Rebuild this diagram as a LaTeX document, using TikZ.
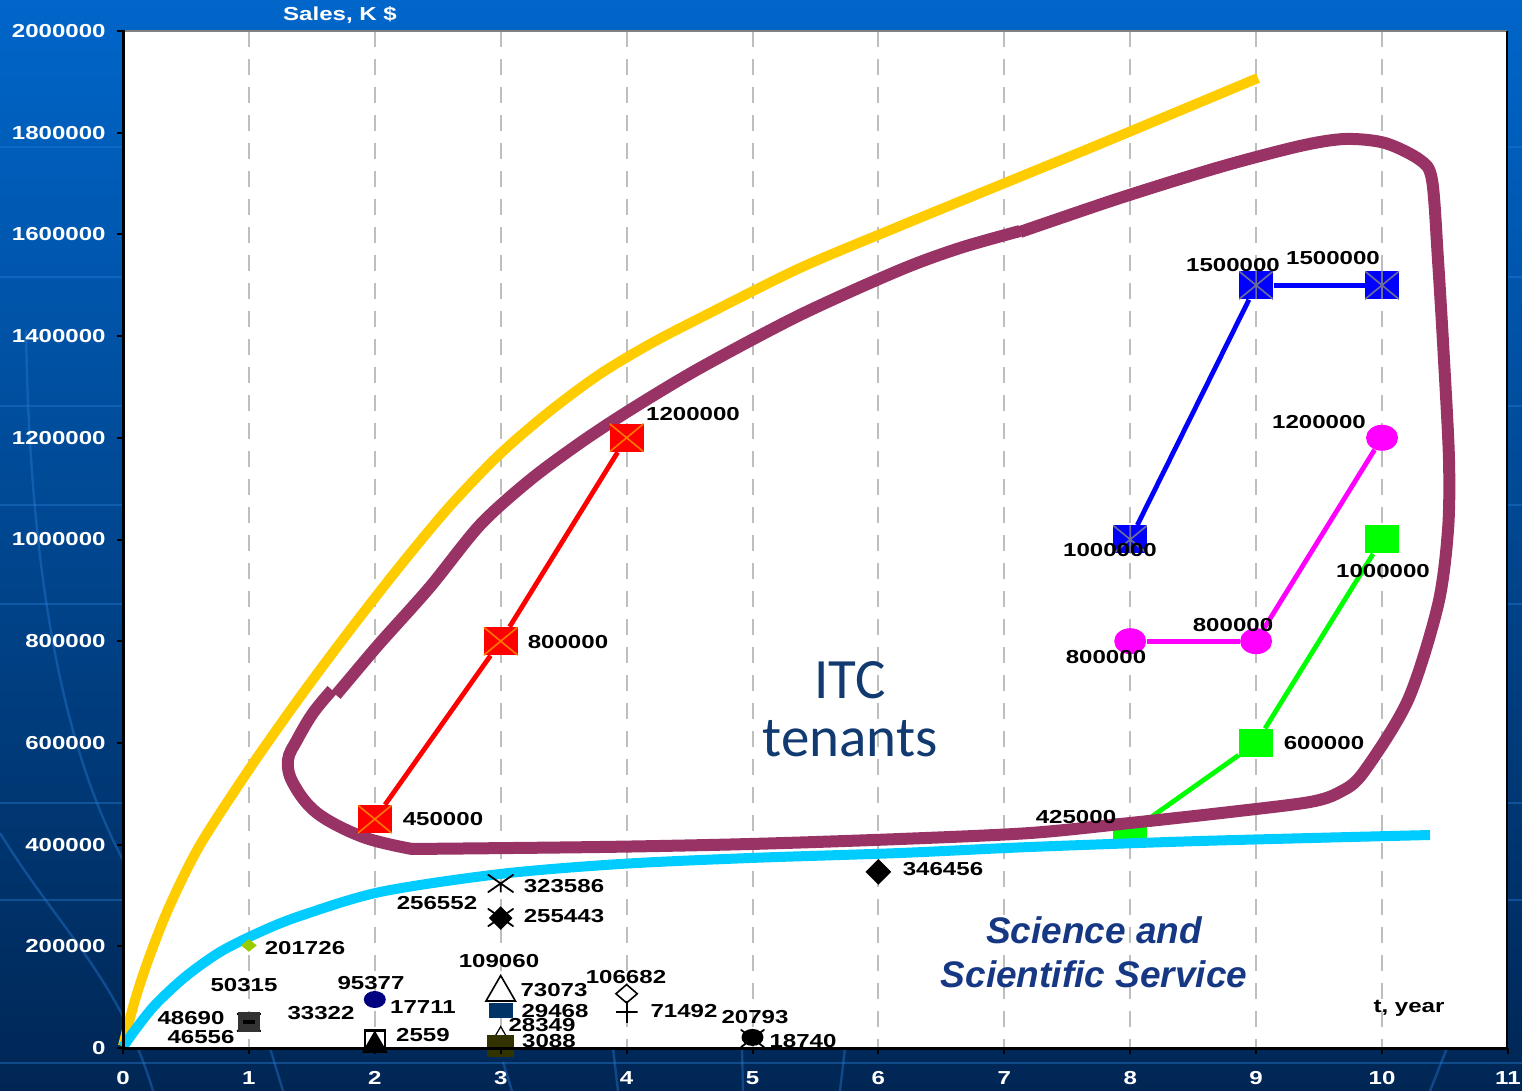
\documentclass[tikz,border=0pt]{standalone}
\usepackage{fontspec}
\usepackage{tikz}
\usetikzlibrary{shapes.geometric}
\newfontfamily\chartfont{Liberation Sans}[FakeStretch=1.28]
\newfontfamily\itcfont{Carlito}
\newfontfamily\sciencefont{Liberation Sans}
\definecolor{bgtop}{RGB}{0,102,202}
\definecolor{bgmid}{RGB}{0,72,148}
\definecolor{bgbot}{RGB}{0,38,84}
\definecolor{decoline}{RGB}{40,125,215}
\definecolor{gridgray}{RGB}{190,190,190}
\definecolor{gold}{RGB}{255,204,0}
\definecolor{plum}{RGB}{153,51,102}
\definecolor{skyline}{RGB}{0,204,255}
\definecolor{pureblue}{RGB}{0,0,255}
\definecolor{purered}{RGB}{255,0,0}
\definecolor{puremagenta}{RGB}{255,0,255}
\definecolor{puregreen}{RGB}{0,255,0}
\definecolor{xorange}{RGB}{255,120,0}
\definecolor{stargray}{RGB}{110,110,150}
\definecolor{leafgreen}{RGB}{153,204,0}
\definecolor{navyblue}{RGB}{0,0,128}
\definecolor{deepblue}{RGB}{0,51,102}
\definecolor{darkolive}{RGB}{51,51,0}
\definecolor{itcblue}{RGB}{16,58,112}
\definecolor{sciblue}{RGB}{22,56,132}

\tikzset{
  num/.style={font=\chartfont\bfseries\fontsize{9.4}{10}\selectfont, inner sep=0pt},
  ticklbl/.style={num, text=white},
  gridline/.style={draw=gridgray, line width=1pt, dash pattern=on 8pt off 6pt},
  deco/.style={draw=decoline, line width=1.2pt, opacity=.4},
  serline/.style={line width=2.4pt},
  sq/.style={rectangle, inner sep=0pt, minimum width=17pt, minimum height=14pt},
  redsq/.style={sq, fill=purered, path picture={
    \draw[xorange, line width=.8pt] (path picture bounding box.north west) -- (path picture bounding box.south east)
      (path picture bounding box.north east) -- (path picture bounding box.south west);}},
  bluesq/.style={sq, fill=pureblue, path picture={
    \draw[stargray, line width=.8pt] (path picture bounding box.north west) -- (path picture bounding box.south east)
      (path picture bounding box.north east) -- (path picture bounding box.south west)
      (path picture bounding box.north) -- (path picture bounding box.south);}},
  greensq/.style={sq, fill=puregreen},
  magdot/.style={ellipse, fill=puremagenta, inner sep=0pt, minimum width=16pt, minimum height=13pt},
  dot/.style={inner sep=0pt, draw=black, line width=.8pt},
  crossmark/.style={rectangle, inner sep=0pt, minimum width=#1, minimum height=9pt, path picture={
    \draw[black, line width=.9pt] (path picture bounding box.north west) -- (path picture bounding box.south east)
      (path picture bounding box.north east) -- (path picture bounding box.south west);}},
  crossmark/.default=12pt
}

\begin{document}
\begin{tikzpicture}[x=0.5pt, y=-0.5pt]
\useasboundingbox (0,0) rectangle (1522,1091);

% slide background
\shade[top color=bgtop, middle color=bgmid, bottom color=bgbot] (0,0) rectangle (1522,1091);
\foreach \yy in {147,277,406,505,604,803,900,1063}
  \draw[deco] (0,\yy) -- (1522,\yy);
\draw[deco] (26,330) .. controls (30,600) and (70,760) .. (123,860);
\draw[deco] (0,833) .. controls (60,930) and (120,980) .. (153,1091);
\draw[deco] (270,1048) -- (283,1091);
\draw[deco] (503,1062) -- (512,1091);
\draw[deco] (613,1048) -- (618,1091);
\draw[deco] (742,1048) -- (743,1091);
\draw[deco] (845,1048) -- (840,1091);
\draw[deco] (1447,1048) -- (1430,1091);

% plot area
\fill[white] (123,31) rectangle (1507,1048);
\foreach \i in {1,...,10}
  \draw[gridline] ({123+125.9*\i},31) -- ({123+125.9*\i},1048);
\draw[gray, line width=.6pt] (123,31) -- (1507,31);

% green series (lies under the curves)
\begin{scope}[shift={(123,1048)}, x=62.95pt, y=0.25425pt]
\node[greensq] (g8) at (8,425) {};
\node[greensq] (g9) at (9,600) {};
\node[greensq] (g10) at (10,1000) {};
\draw[serline, puregreen] (g8) -- (g9);
\draw[serline, puregreen] (g9) -- (g10);
\end{scope}

% curves
\draw[gold, line width=5pt] plot[smooth, tension=.5] coordinates {(123,1046) (135,1000) (150,955) (170,905) (200,845) (250,768) (300,697) (350,630) (400,566) (450,506) (500,454) (550,411) (600,374) (650,344) (700,318) (800,268) (900,226) (1000,185) (1100,144) (1258,78)};
\draw[skyline, line width=5pt] plot[smooth, tension=.5] coordinates {(123,1047) (135,1030) (155,1005) (185,977) (220,952) (260,932) (300,916) (380,892) (500,874) (620,864) (750,858) (900,853) (1030,847) (1200,841) (1430,835)};
\draw[plum, line width=6pt, line join=round] plot[smooth, tension=.5] coordinates {(336,695) (352,676) (380,643) (430,587) (480,525) (530,480) (580,443) (630,410) (700,368) (800,315) (900,270) (960,248) (1020,231)};
\draw[plum, line width=6pt, line join=round] plot[smooth, tension=.5] coordinates {(1020,232) (1120,198) (1220,167) (1300,146) (1345,139) (1385,143) (1420,160) (1432,180) (1438,260) (1444,360) (1449,460) (1448,530) (1438,605) (1408,700) (1363,773) (1340,792) (1310,802) (1230,812) (1130,823) (1030,833) (900,839) (750,844) (600,847) (410,849)};
\draw[plum, line width=6pt, line join=round] plot[smooth, tension=.6] coordinates {(412,849) (363,837) (317,813) (293,783) (288,760) (297,740) (313,713) (332,690)};

% data markers
\begin{scope}[shift={(123,1048)}, x=62.95pt, y=0.25425pt]
\node[redsq] (r2) at (2,450) {};
\node[redsq] (r3) at (3,800) {};
\node[redsq] (r4) at (4,1200) {};
\draw[serline, purered] (r2) -- (r3);
\draw[serline, purered] (r3) -- (r4);
\node[bluesq] (b8) at (8,1000) {};
\node[bluesq] (b9) at (9,1500) {};
\node[bluesq] (b10) at (10,1500) {};
\draw[serline, pureblue] (b8) -- (b9);
\draw[serline, pureblue] (b9) -- (b10);
\node[magdot] (m8) at (8,800) {};
\node[magdot] (m9) at (9,800) {};
\node[magdot] (m10) at (10,1200) {};
\draw[serline, puremagenta] (m8) -- (m9);
\draw[serline, puremagenta] (m9) -- (m10);
% single firms
\node[diamond, fill=leafgreen, inner sep=0pt, minimum width=8pt, minimum height=6.5pt] (f201) at (1,201.726) {};
\node[crossmark=12pt] (f48) at (1,50.315) {};
\node[rectangle, fill=black!80, inner sep=0pt, minimum width=11pt, minimum height=10pt,
  path picture={\draw[black, line width=2pt] ([xshift=2.5pt]path picture bounding box.west) -- ([xshift=-2.5pt]path picture bounding box.east);}] (f50) at (1,50.315) {};
\node[ellipse, fill=navyblue, inner sep=0pt, minimum width=11pt, minimum height=8.5pt] (f95) at (2,95.377) {};
\node[dot, rectangle, fill=white, line width=1.3pt, minimum width=10pt, minimum height=8.5pt] (f17) at (2,17.711) {};
\node[regular polygon, regular polygon sides=3, fill=black, inner sep=0pt, minimum size=15pt] (f2559) at (2,5) {};
\node[crossmark=13pt] (f256) at (3,256.552) {};
\node[diamond, fill=black, inner sep=0pt, minimum size=12pt] (f255) at (3,255.443) {};
\node[rectangle, inner sep=0pt, minimum width=13pt, minimum height=9pt, path picture={
  \draw[black, line width=.9pt] (path picture bounding box.north west) -- (path picture bounding box.south east)
    (path picture bounding box.north east) -- (path picture bounding box.south west)
    (path picture bounding box.center) -- (path picture bounding box.south);}] (f323) at (3,323.586) {};
\node[dot, regular polygon, regular polygon sides=3, fill=white, minimum size=17pt] (f109) at (3,109.06) {};
\node[rectangle, fill=deepblue, inner sep=0pt, minimum width=12pt, minimum height=7.5pt] (f73) at (3,73.073) {};
\node[dot, regular polygon, regular polygon sides=3, fill=white, minimum size=7pt, line width=.6pt] (f28) at (3,28.349) {};
\node[rectangle, fill=darkolive, inner sep=0pt, minimum width=13.5pt, minimum height=11pt] (f3088) at (3,3.088) {};
\node[dot, diamond, fill=white, minimum width=11pt, minimum height=9.5pt] (f106) at (4,106.682) {};
\node[rectangle, inner sep=0pt, minimum size=11pt, path picture={
  \draw[black, line width=1pt] (path picture bounding box.north) -- (path picture bounding box.south)
    (path picture bounding box.west) -- (path picture bounding box.east);}] (f71) at (4,71.492) {};
\node[crossmark=12pt] (f18) at (5,18.74) {};
\node[ellipse, fill=black, inner sep=0pt, minimum width=11pt, minimum height=8.5pt] (f20) at (5,20.793) {};
\node[diamond, fill=black, inner sep=0pt, minimum size=13pt] (f346) at (6,346.456) {};
\end{scope}

% value labels
\node[num] (n450) at (443,819) {450000};
\node[num] (n800r) at (568,642) {800000};
\node[num] (n1200r) at (693,414) {1200000};
\node[num] (n1000b) at (1110,550) {1000000};
\node[num] (n1500a) at (1233,265) {1500000};
\node[num] (n1500b) at (1333,258) {1500000};
\node[num] (n1200m) at (1319,422) {1200000};
\node[num] (n800m9) at (1233,625) {800000};
\node[num] (n800m8) at (1106,657) {800000};
\node[num] (n1000g) at (1383,571) {1000000};
\node[num] (n600) at (1324,743) {600000};
\node[num] (n425) at (1076,817) {425000};
\node[num] (n346) at (943,869) {346456};
\node[num] (n323) at (564,886) {323586};
\node[num] (n256) at (437,903) {256552};
\node[num] (n255) at (564,916) {255443};
\node[num] (n201) at (305,948) {201726};
\node[num] (n109) at (499,961) {109060};
\node[num] (n106) at (626,977) {106682};
\node[num] (n50) at (244,985) {50315};
\node[num] (n95) at (371,983) {95377};
\node[num] (n73) at (554,990) {73073};
\node[num] (n17) at (423,1007) {17711};
\node[num] (n33) at (321,1013) {33322};
\node[num] (n29) at (555,1011) {29468};
\node[num] (n71) at (684,1011) {71492};
\node[num] (n20) at (755,1017) {20793};
\node[num] (n48) at (191,1018) {48690};
\node[num] (n28) at (542,1025) {28349};
\node[num] (n2559) at (423,1035) {2559};
\node[num] (n46) at (201,1037) {46556};
\node[num] (n3088) at (549,1041) {3088};
\node[num] (n18) at (803,1041) {18740};

% group names
\node[font=\itcfont\fontsize{28.5}{29}\selectfont, text=itcblue, align=center, inner sep=0pt] (itc) at (850,709) {ITC\\tenants};
\node[font=\sciencefont\bfseries\itshape\fontsize{18.5}{22}\selectfont, text=sciblue, align=center, inner sep=0pt] (sci) at (1094,952) {Science and\\Scientific Service};

% axes
\draw[black, line width=1.5pt] (123,30) -- (123,1048) -- (1507,1048);
\draw[black, line width=1pt] (1507,31) -- (1507,1048);
\foreach \k in {0,...,10} {
  \draw[black, line width=1pt] (117,{1048-101.7*\k}) -- (123,{1048-101.7*\k});
  \node[ticklbl, anchor=east] (yt\k) at (106,{1048-101.7*\k}) {\number\numexpr\k*200000\relax};
}
\foreach \i in {0,...,11} {
  \draw[black, line width=1pt] ({123+125.9*\i},1048) -- ({123+125.9*\i},1054);
  \node[ticklbl] (xt\i) at ({123+125.9*\i},1078) {\i};
}
\node[ticklbl] (ytitle) at (340,15) {Sales, K \$};
\node[num] (xtitle) at (1409,1008) {t, year};
\end{tikzpicture}
\end{document}
